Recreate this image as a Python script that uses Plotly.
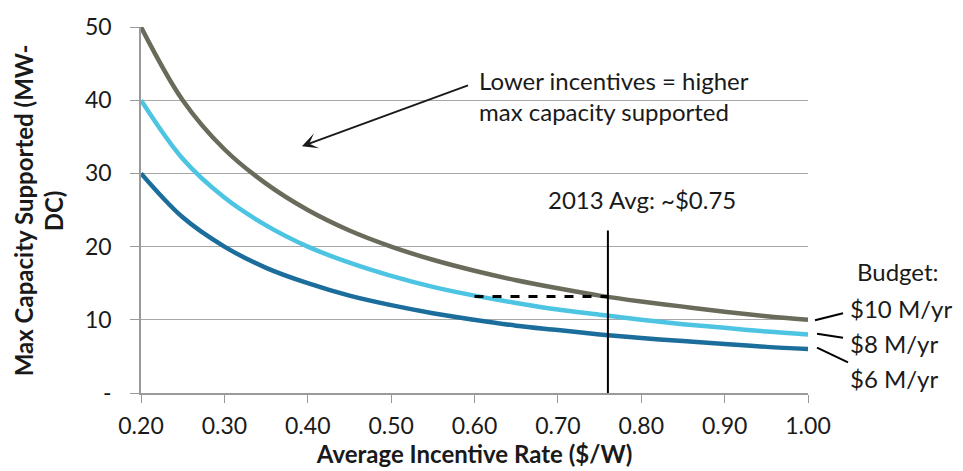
import plotly.graph_objects as go

# Average incentive rate ($/W)
rate = [0.20, 0.25, 0.30, 0.35, 0.40, 0.45, 0.50, 0.55, 0.60, 0.65,
        0.70, 0.75, 0.80, 0.85, 0.90, 0.95, 1.00]

# Max capacity supported (MW-DC) for each annual budget
cap_10m = [50.0, 40.0, 33.3, 28.6, 25.0, 22.2, 20.0, 18.2, 16.7, 15.4,
           14.3, 13.3, 12.5, 11.8, 11.1, 10.5, 10.0]
cap_8m = [40.0, 32.0, 26.7, 22.9, 20.0, 17.8, 16.0, 14.5, 13.3, 12.3,
          11.4, 10.7, 10.0, 9.4, 8.9, 8.4, 8.0]
cap_6m = [30.0, 24.0, 20.0, 17.1, 15.0, 13.3, 12.0, 10.9, 10.0, 9.2,
          8.6, 8.0, 7.5, 7.1, 6.7, 6.3, 6.0]

budget_labels = ["$10 M/yr", "$8 M/yr", "$6 M/yr"]
colors = ["#6b6b5b", "#4cc4e2", "#1b6d9c"]

x_ticks = [0.2, 0.3, 0.4, 0.5, 0.6, 0.7, 0.8, 0.9, 1.0]
x_ticktext = ["0.20", "0.30", "0.40", "0.50", "0.60", "0.70", "0.80", "0.90", "1.00"]
y_ticks = [0, 10, 20, 30, 40, 50]
y_ticktext = ["-", "10", "20", "30", "40", "50"]

# 2013 average marker and the capacity it supports on the $10 M/yr curve
avg_2013 = 0.76
avg_cap = 13.2
dash_start = 0.60

FONT = "Lato"
TXT = "#1a1a1a"
ANN = dict(family=FONT, size=24, color=TXT)
BOLD = dict(family=FONT, size=24, color=TXT)

fig = go.Figure()

for ys, name, c in zip([cap_10m, cap_8m, cap_6m], budget_labels, colors):
    fig.add_trace(go.Scatter(
        x=rate, y=ys, mode="lines", name=name,
        line=dict(color=c, width=4.5, shape="spline", smoothing=1.0),
        showlegend=False, hoverinfo="x+y",
    ))

# vertical marker at the 2013 average incentive
fig.add_trace(go.Scatter(
    x=[avg_2013, avg_2013], y=[0, 22.2], mode="lines",
    line=dict(color="black", width=2), showlegend=False, hoverinfo="skip",
))
# dashed reference at the supported capacity
fig.add_trace(go.Scatter(
    x=[dash_start, avg_2013], y=[avg_cap, avg_cap], mode="lines",
    line=dict(color="black", width=3, dash="dash"), showlegend=False, hoverinfo="skip",
))

annotations = [
    dict(x=0.8007, y=26.5, xref="x", yref="y", text="2013 Avg: ~$0.75",
         showarrow=False, font=ANN, xanchor="center", yanchor="middle"),
    dict(x=0.603, y=42.7, xref="x", yref="y", text="Lower incentives = higher",
         showarrow=False, xanchor="left", yanchor="middle", font=ANN),
    dict(x=0.603, y=38.4, xref="x", yref="y", text="max capacity supported",
         showarrow=False, xanchor="left", yanchor="middle", font=ANN),
    # arrow pointing toward lower incentives
    dict(x=0.393, y=33.7, ax=0.594, ay=42.1, xref="x", yref="y", axref="x", ayref="y",
         text="", showarrow=True, arrowhead=3, arrowsize=1.3, arrowwidth=2,
         arrowcolor="#1a1a1a"),
    # y-axis title, two rotated lines
    dict(x=-0.177, y=0.499, xref="paper", yref="paper", xanchor="center", yanchor="middle",
         text="<b>Max Capacity Supported (MW-</b>", textangle=-90,
         showarrow=False, font=BOLD),
    dict(x=-0.132, y=0.499, xref="paper", yref="paper", xanchor="center", yanchor="middle",
         text="<b>DC)</b>", textangle=-90, showarrow=False, font=BOLD),
    # budget labels
    dict(x=1.071, y=16.6, xref="paper", yref="y", text="Budget:", showarrow=False,
         xanchor="left", yanchor="middle", font=ANN),
]
label_y = [11.6, 6.74, 2.0]
for lbl, ly in zip(budget_labels, label_y):
    annotations.append(dict(x=1.060, y=ly, xref="paper", yref="y", text=lbl,
                            showarrow=False, xanchor="left", yanchor="middle", font=ANN))

fig.update_layout(annotations=annotations)

# leader lines from curve ends to budget labels (paper coordinates)
leaders = [((1.0105, 0.199), (1.0525, 0.218)),
           ((1.0135, 0.162), (1.0525, 0.151)),
           ((1.0135, 0.124), (1.060, 0.0835))]
for (x0, y0), (x1, y1) in leaders:
    fig.add_shape(type="line", xref="paper", yref="paper", x0=x0, y0=y0, x1=x1, y1=y1,
                  line=dict(color="black", width=2))

fig.update_xaxes(
    range=[0.2, 1.0], tickvals=x_ticks, ticktext=x_ticktext,
    showgrid=False, zeroline=False, showline=True, linecolor="#9a9a9a", linewidth=1.5,
    ticks="outside", ticklen=8, tickcolor="#9a9a9a", ticklabelstandoff=4,
    tickfont=dict(family=FONT, size=23, color=TXT),
    title=dict(text="<b>Average Incentive Rate ($/W)</b>", standoff=2,
               font=dict(family=FONT, size=24, color=TXT)),
)
fig.update_yaxes(
    range=[0, 50], tickvals=y_ticks, ticktext=y_ticktext,
    showgrid=True, gridcolor="#a8a8a8", gridwidth=1.2, zeroline=False,
    showline=True, linecolor="#9a9a9a", linewidth=1.5,
    ticks="outside", ticklen=9, tickcolor="#9a9a9a", ticklabelstandoff=14,
    tickfont=dict(family=FONT, size=23, color=TXT),
)

fig.update_layout(
    width=963, height=471,
    margin=dict(l=141, r=155, t=22, b=78),
    plot_bgcolor="white", paper_bgcolor="white",
    font=dict(family=FONT, size=22, color=TXT),
)

fig.write_html("out.html")
